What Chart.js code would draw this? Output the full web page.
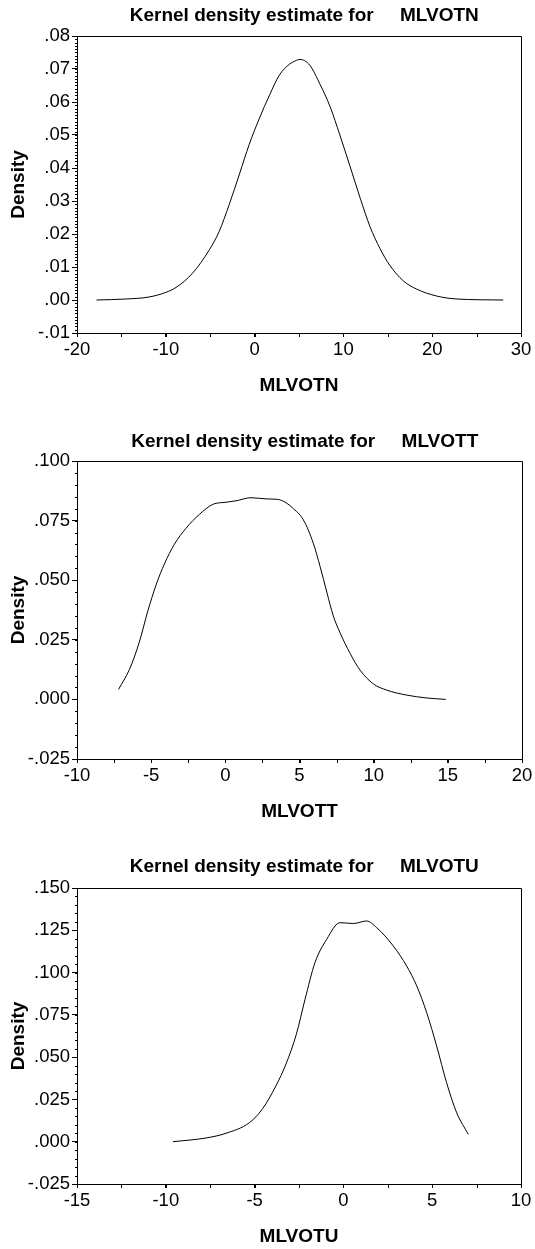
<!DOCTYPE html>
<html>
<head>
<meta charset="utf-8">
<script src="https://cdn.jsdelivr.net/npm/chart.js@4.4.1/dist/chart.umd.min.js"></script>
<style>
  html, body { margin: 0; padding: 0; background: #fff; }
  .box { position: absolute; left: 0; width: 535px; }
</style>
</head>
<body>
<div class="box" style="top:0;height:400px"><canvas id="chartN"></canvas></div>
<div class="box" style="top:400px;height:426px"><canvas id="chartT"></canvas></div>
<div class="box" style="top:826px;height:423px"><canvas id="chartU"></canvas></div>
<script>
// MLVOTN density curve
var mlvotnX = [-17.8, -14.5, -11.9, -10.0, -8.85, -7.0, -5.1, -4.0, -2.85, -1.7, -0.6, 0.5, 1.7, 2.8, 3.9, 4.7, 5.1,
               6.2, 7.4, 8.5, 9.6, 10.7, 11.9, 13.0, 14.1, 15.2, 16.75, 18.25, 20.5, 22.8, 28.0];
var mlvotnY = [0.0000, 0.0003, 0.0009, 0.0023, 0.0038, 0.0081, 0.0152, 0.0207, 0.0290, 0.0382, 0.0472, 0.0548, 0.0622, 0.0682, 0.0714, 0.0726, 0.0729,
               0.0712, 0.0652, 0.0586, 0.0500, 0.0409, 0.0308, 0.0222, 0.0157, 0.0106, 0.0058, 0.0033, 0.0012, 0.0003, 0.0000];
var mlvotnXTicks = [-20, -10, 0, 10, 20, 30];
var mlvotnYTicks = [-0.01, 0, 0.01, 0.02, 0.03, 0.04, 0.05, 0.06, 0.07, 0.08];

// MLVOTT density curve
var mlvottX = [-7.2, -6.47, -5.8, -5.23, -4.67, -4.11, -3.44, -2.65, -1.75, -0.85, 0.05, 0.72, 1.73, 2.74, 3.53, 4.09, 4.5,
               5.26, 5.93, 6.39, 6.84, 7.28, 7.73, 8.41, 9.08, 9.98, 10.88, 12.23, 13.58, 14.86];
var mlvottY = [0.0042, 0.0125, 0.0240, 0.0370, 0.0480, 0.0568, 0.0650, 0.0718, 0.0776, 0.0818, 0.0827, 0.0833, 0.0846, 0.0841, 0.0839, 0.0825, 0.0805,
               0.0753, 0.0655, 0.0557, 0.0450, 0.0350, 0.0280, 0.0193, 0.0123, 0.0065, 0.0039, 0.0018, 0.0006, 0.0000];
var mlvottXTicks = [-10, -5, 0, 5, 10, 15, 20];
var mlvottYTicks = [-0.025, 0, 0.025, 0.05, 0.075, 0.1];

// MLVOTU density curve
var mlvotuX = [-9.6, -7.74, -6.61, -5.3, -4.55, -3.8, -3.23, -2.65, -2.16, -1.6, -0.94, -0.19, 0.56, 1.31, 1.87, 2.81, 3.56,
               4.13, 4.69, 5.25, 5.81, 6.38, 7.03];
var mlvotuY = [0.0000, 0.0022, 0.0050, 0.0112, 0.0195, 0.0330, 0.0460, 0.0635, 0.0842, 0.1059, 0.1197, 0.1295, 0.1290, 0.1305, 0.1266, 0.1157, 0.1039,
               0.0921, 0.0763, 0.0566, 0.0349, 0.0171, 0.0044];
var mlvotuXTicks = [-15, -10, -5, 0, 5, 10];
var mlvotuYTicks = [-0.025, 0, 0.025, 0.05, 0.075, 0.1, 0.125, 0.15];

Chart.defaults.font.family = "'Liberation Sans', Arial, sans-serif";
Chart.defaults.color = '#000';

// leading zero dropped, as in the original: .05, -.01
function densLabel(v, dec) {
    var s = Math.abs(v).toFixed(dec).replace(/^0/, '');
    return (v < -1e-9 ? '-' : '') + s;
}

// box round the plot + short minor ticks
var framePlugin = {
    id: 'frame',
    afterDraw: function(chart, args, opts) {
        var ctx = chart.ctx, a = chart.chartArea;
        var xs = chart.scales.x, ys = chart.scales.y;
        var i, n, p;
        ctx.save();
        ctx.strokeStyle = '#000';
        ctx.lineWidth = 1;
        ctx.beginPath();
        ctx.moveTo(a.left, Math.round(a.top) + 0.5);
        ctx.lineTo(Math.round(a.right) + 0.5, Math.round(a.top) + 0.5);
        ctx.lineTo(Math.round(a.right) + 0.5, a.bottom);
        n = Math.round((xs.max - xs.min) / opts.xMinor);
        for (i = 0; i <= n; i++) {
            p = Math.round(xs.getPixelForValue(xs.min + i * opts.xMinor)) + 0.5;
            ctx.moveTo(p, a.bottom);
            ctx.lineTo(p, a.bottom + 4);
        }
        n = Math.round((ys.max - ys.min) / opts.yMinor);
        for (i = 0; i <= n; i++) {
            p = Math.round(ys.getPixelForValue(ys.min + i * opts.yMinor)) + 0.5;
            ctx.moveTo(a.left - 2, p);
            ctx.lineTo(a.left, p);
        }
        ctx.stroke();
        ctx.restore();
    }
};

function makeChart(id, s) {
    var pts = s.xs.map(function(x, i) { return { x: x, y: s.ys[i] }; });
    return new Chart(document.getElementById(id), {
        type: 'line',
        data: {
            datasets: [{
                data: pts,
                borderColor: '#000',
                borderWidth: 1,
                pointRadius: 0,
                fill: false,
                cubicInterpolationMode: 'monotone'
            }]
        },
        options: {
            responsive: true,
            maintainAspectRatio: false,
            animation: false,
            layout: { padding: { right: s.padRight } },
            plugins: {
                legend: { display: false },
                tooltip: { enabled: false },
                title: {
                    display: true,
                    // two leading spaces push the title a little right of the plot centre, as in the original
                    text: '  Kernel density estimate for     ' + s.xTitle,
                    fullSize: false,
                    color: '#000',
                    font: { size: 19, weight: 'bold' },
                    padding: { top: s.titleTop, bottom: s.titleBottom }
                },
                frame: { xMinor: s.xMinor, yMinor: s.yMinor }
            },
            scales: {
                x: {
                    type: 'linear',
                    min: s.xTicks[0],
                    max: s.xTicks[s.xTicks.length - 1],
                    afterBuildTicks: function(sc) { sc.ticks = s.xTicks.map(function(v) { return { value: v }; }); },
                    afterFit: function(sc) { sc.height = s.xHeight; },
                    grid: { drawOnChartArea: false, tickLength: 4, color: '#000' },
                    border: { color: '#000' },
                    ticks: {
                        padding: 2,
                        maxRotation: 0,
                        autoSkip: false,
                        font: { size: 18.5 },
                        callback: function(v) { return String(v); }
                    },
                    title: {
                        display: true,
                        text: s.xTitle,
                        font: { size: 19, weight: 'bold' },
                        padding: { top: 0, bottom: s.xTitleBottom }
                    }
                },
                y: {
                    min: s.yTicks[0],
                    max: s.yTicks[s.yTicks.length - 1],
                    afterBuildTicks: function(sc) { sc.ticks = s.yTicks.map(function(v) { return { value: v }; }); },
                    afterFit: function(sc) { sc.width = 77; },
                    grid: { drawOnChartArea: false, tickLength: 5, color: '#000' },
                    border: { color: '#000' },
                    ticks: {
                        padding: 2,
                        autoSkip: false,
                        font: { size: 18.5 },
                        callback: function(v) { return densLabel(v, s.dec); }
                    },
                    title: {
                        display: true,
                        text: 'Density',
                        font: { size: 19, weight: 'bold' },
                        padding: { top: 7, bottom: 0 }
                    }
                }
            }
        },
        plugins: [framePlugin]
    });
}

makeChart('chartN', {
    xs: mlvotnX, ys: mlvotnY, xTicks: mlvotnXTicks, yTicks: mlvotnYTicks, dec: 2,
    xMinor: 5, yMinor: 0.001, xTitle: 'MLVOTN',
    titleTop: 4.6, titleBottom: 8.6, xHeight: 67, xTitleBottom: 3, padRight: 14
});

makeChart('chartT', {
    xs: mlvottX, ys: mlvottY, xTicks: mlvottXTicks, yTicks: mlvottYTicks, dec: 3,
    xMinor: 2.5, yMinor: 0.005, xTitle: 'MLVOTT',
    titleTop: 30.6, titleBottom: 7.6, xHeight: 67, xTitleBottom: 3, padRight: 13
});

makeChart('chartU', {
    xs: mlvotuX, ys: mlvotuY, xTicks: mlvotuXTicks, yTicks: mlvotuYTicks, dec: 3,
    xMinor: 2.5, yMinor: 0.005, xTitle: 'MLVOTU',
    titleTop: 29.6, titleBottom: 9.6, xHeight: 65, xTitleBottom: 1, padRight: 14
});
</script>
</body>
</html>
